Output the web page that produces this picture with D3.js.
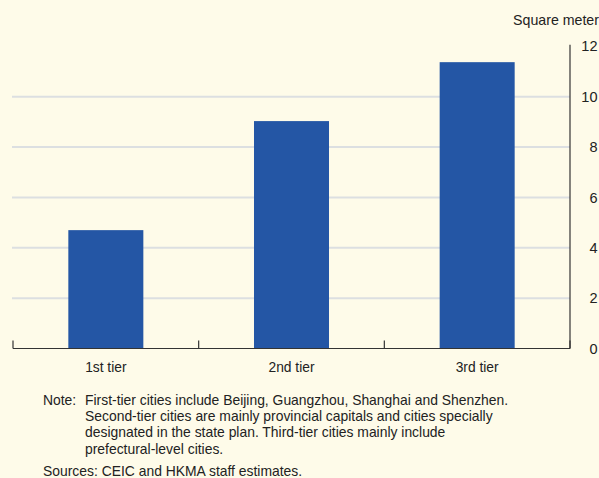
<!DOCTYPE html>
<html><head><meta charset="utf-8">
<script src="https://cdn.jsdelivr.net/npm/d3@7"></script>
<style>
html,body{margin:0;padding:0;background:#fefbe9;}
svg{display:block;font-family:"Liberation Sans",Arial,Helvetica,sans-serif;}
</style></head>
<body>
<svg id="chart" width="599" height="478"></svg>
<script>
const categories = ["1st tier","2nd tier","3rd tier"];
const values = [4.70, 9.03, 11.37];
const yTicks = [0,2,4,6,8,10,12];
const unitLabel = "Square meter";
const noteLines = [
  "First-tier cities include Beijing, Guangzhou, Shanghai and Shenzhen.",
  "Second-tier cities are mainly provincial capitals and cities specially",
  "designated in the state plan. Third-tier cities mainly include",
  "prefectural-level cities."
];
const sourceText = "Sources: CEIC and HKMA staff estimates.";

(function(){
const svg = d3.select("#chart");
const mLeft = 13, mRight = 570, mBottom = 348.5, mTop = 46.3;

const x = d3.scaleBand().domain(categories).range([mLeft, mRight]).paddingInner(0.596).paddingOuter(0.298);
const y = d3.scaleLinear().domain([0,12]).range([mBottom, mTop]);

// gridlines
svg.append("g").selectAll("line").data(yTicks.filter(d=>d>0 && d<12)).join("line")
  .attr("x1", mLeft-1).attr("x2", mRight)
  .attr("y1", d=>y(d)).attr("y2", d=>y(d))
  .attr("stroke", "#dcdfe1").attr("stroke-width", 2);

// bars
svg.append("g").selectAll("rect").data(values).join("rect")
  .attr("x", (d,i)=>x(categories[i]))
  .attr("width", x.bandwidth())
  .attr("y", d=>y(d))
  .attr("height", d=>mBottom - y(d))
  .attr("fill", "#2456a5");

// x axis
const xb = d3.scaleLinear().domain([0,3]).range([mLeft, mRight]);
const xAxisG = svg.append("g");
xAxisG.append("line").attr("x1", mLeft).attr("x2", mRight).attr("y1", mBottom).attr("y2", mBottom)
  .attr("stroke", "#333").attr("stroke-width", 1.2);
xAxisG.selectAll("line.tk").data([0,1,2,3]).join("line").attr("class","tk")
  .attr("x1", d=>xb(d)).attr("x2", d=>xb(d))
  .attr("y1", mBottom).attr("y2", mBottom-8)
  .attr("stroke", "#333").attr("stroke-width", 1.2);
xAxisG.selectAll("text").data(categories).join("text")
  .attr("x", d=>x(d)+x.bandwidth()/2).attr("y", 372)
  .attr("text-anchor", "middle").attr("font-size", 13.8).attr("fill", "#222")
  .text(d=>d);

// right y axis
const yAxis = d3.axisRight(y).tickValues(yTicks).tickSize(0).tickPadding(0);
const yg = svg.append("g").attr("transform", `translate(${mRight},0)`).call(yAxis);
yg.select(".domain").attr("stroke", "#333").attr("stroke-width", 1.2).attr("d", `M0,${mBottom}V${mTop-1.5}`);
yg.selectAll("text").attr("x", 27.5).attr("text-anchor", "end")
  .attr("font-size", 14.5).attr("fill", "#222")
  .attr("font-family", "Liberation Sans, Arial, sans-serif");

svg.append("text").attr("x", 599).attr("y", 25).attr("text-anchor", "end")
  .attr("font-size", 14.2).attr("fill", "#222").text(unitLabel);

// notes
const notes = svg.append("g").attr("font-size", 13.9).attr("fill", "#222");
notes.append("text").attr("x", 43).attr("y", 405).text("Note:");
notes.selectAll("text.nl").data(noteLines).join("text").attr("class","nl")
  .attr("x", 85).attr("y", (d,i)=>405 + i*16.2).text(d=>d);
notes.append("text").attr("x", 43).attr("y", 476).text(sourceText);
})();
</script>
</body></html>
